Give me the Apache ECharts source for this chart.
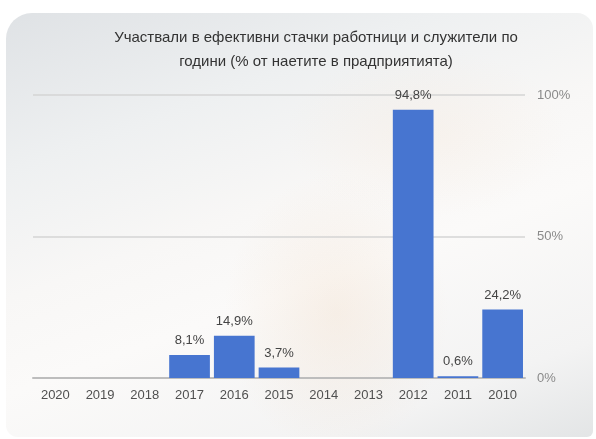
<!DOCTYPE html>
<html><head><meta charset="utf-8">
<script src="https://cdn.jsdelivr.net/npm/echarts@6/dist/echarts.min.js"></script>
<style>
html,body{margin:0;padding:0;background:#fff;}
#wrap{position:relative;width:596px;height:439px;overflow:hidden;background:#fff;}
#card{position:absolute;left:6px;top:13px;width:587px;height:424px;border-radius:26px 16px 6px 12px;
background:
 radial-gradient(ellipse 160px 200px at 330px 300px, rgba(240,215,190,0.30), rgba(255,255,255,0) 70%),
 radial-gradient(ellipse 200px 120px at 420px 120px, rgba(245,230,215,0.30), rgba(255,255,255,0) 70%),
 linear-gradient(160deg, #dfe2e5 0%, #eef0f1 25%, #f8f7f6 45%, #fbfaf9 60%, #f3f3f3 85%, #e3e5e6 100%);}
#chart{position:absolute;left:0;top:0;width:596px;height:439px;}
</style></head>
<body><div id="wrap"><div id="card"></div><div id="chart"></div></div>
<script>
const titleLines = ["Участвали в ефективни стачки работници и служители по", "години (% от наетите в прадприятията)"];
const categories = ["2020","2019","2018","2017","2016","2015","2014","2013","2012","2011","2010"];
const values = [0,0,0,8.1,14.9,3.7,0,0,94.8,0.6,24.2];
const yTicks = [0,50,100];

const FONT = '"Liberation Sans", Arial, sans-serif';
const chart = echarts.init(document.getElementById('chart'));
chart.setOption({
  backgroundColor: 'transparent',
  animation: false,
  title: {
    text: titleLines.join('\n'),
    left: 311, top: 21, textAlign: 'center',
    textStyle: {fontFamily: FONT, fontSize: 15, fontWeight: 'normal', color: '#333', lineHeight: 24}
  },
  grid: {left: 33, right: 71, top: 95, bottom: 61},
  xAxis: {
    type: 'category', data: categories,
    axisLine: {show: true, lineStyle: {color: '#bdbdbd', width: 2}},
    axisTick: {show: false},
    axisLabel: {fontFamily: FONT, fontSize: 13, color: '#505050', margin: 11}
  },
  yAxis: {
    type: 'value', position: 'right', min: yTicks[0], max: yTicks[yTicks.length-1], interval: 50,
    axisLine: {show: false}, axisTick: {show: false},
    splitLine: {lineStyle: {color: '#d4d4d4', width: 1.5}},
    axisLabel: {fontFamily: FONT, fontSize: 13, color: '#8a8a8a', margin: 12, formatter: v => v + '%'}
  },
  series: [{
    type: 'bar', data: values, barCategoryGap: '9%',
    itemStyle: {color: '#4775d0'},
    label: {
      show: true, position: 'top', distance: 8,
      fontFamily: FONT, fontSize: 13, color: '#444',
      formatter: p => p.value === 0 ? '' : String(p.value).replace('.', ',') + '%'
    }
  }]
});
</script></body></html>
